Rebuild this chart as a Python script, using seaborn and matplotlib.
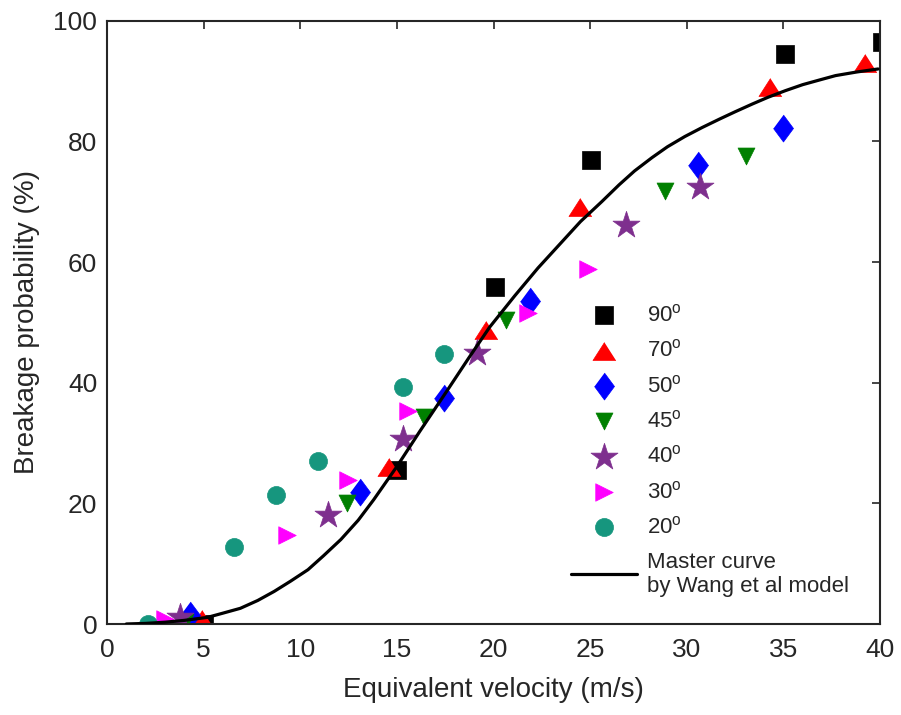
import matplotlib
matplotlib.use("Agg")
import matplotlib.pyplot as plt
import seaborn as sns
import pandas as pd

# ---------------- data ----------------
labels = ["90", "70", "50", "45", "40", "30", "20"]

v90 = [5.0, 15.0, 20.1, 25.05, 35.1, 40.1]
p90 = [0.0, 25.6, 55.8, 76.9, 94.4, 96.5]
v70 = [4.9, 14.6, 19.6, 24.5, 34.3, 39.2]
p70 = [0.8, 26.1, 48.7, 69.2, 89.0, 93.0]
v50 = [4.3, 13.1, 17.45, 21.9, 30.6, 35.0]
p50 = [1.5, 21.9, 37.5, 53.5, 76.0, 82.2]
v45 = [4.05, 12.4, 16.4, 20.65, 28.9, 33.05]
p45 = [0.4, 20.0, 34.3, 50.4, 71.7, 77.5]
v40 = [3.8, 11.45, 15.3, 19.15, 26.85, 30.7]
p40 = [1.2, 18.0, 30.6, 45.0, 66.2, 72.4]
v30 = [3.0, 9.3, 12.45, 15.55, 21.8, 24.9]
p30 = [0.8, 14.8, 23.8, 35.3, 51.6, 58.8]
v20 = [2.1, 6.55, 8.72, 10.92, 15.3, 17.45]
p20 = [0.0, 12.8, 21.4, 27.1, 39.3, 44.7]

curve_v = [1.0, 2.0, 3.0, 4.0, 5.2, 6.0, 6.9, 7.8, 8.65, 9.5, 10.4, 11.2, 12.1,
           13.0, 13.8, 15.0, 16.2, 17.5, 18.7, 19.8, 21.1, 22.3, 23.5, 24.5,
           25.6, 26.5, 27.3, 28.2, 29.0, 29.9, 30.8, 31.7, 32.5, 33.4, 34.2,
           35.1, 36.0, 36.9, 37.7, 38.8, 39.9]
curve_p = [0.0, 0.1, 0.3, 0.6, 1.1, 1.8, 2.6, 3.9, 5.4, 7.1, 9.0, 11.3, 14.0,
           17.2, 20.6, 26.1, 32.0, 38.2, 44.0, 49.2, 54.4, 59.0, 63.2, 66.7,
           70.0, 72.8, 75.1, 77.3, 79.1, 80.8, 82.3, 83.7, 84.9, 86.2, 87.3,
           88.4, 89.4, 90.2, 90.9, 91.5, 92.0]

xticks = [0, 5, 10, 15, 20, 25, 30, 35, 40]
yticks = [0, 20, 40, 60, 80, 100]

# ---------------- style ----------------
sns.set_style("white")
text_col = "#262626"
plt.rcParams["font.family"] = ["Liberation Sans", "DejaVu Sans"]
plt.rcParams["mathtext.fontset"] = "custom"
plt.rcParams["mathtext.rm"] = "Liberation Sans"
plt.rcParams["mathtext.it"] = "Liberation Sans:italic"
plt.rcParams["mathtext.bf"] = "Liberation Sans:bold"

fig = plt.figure(figsize=(9.01, 7.15), dpi=100)
ax = fig.add_axes([107 / 901, (715 - 624) / 715, (880 - 107) / 901, (624 - 20.7) / 715])

tri_up = [(0, 0.78), (-1, -0.78), (1, -0.78)]
diamond = [(0, 1), (0.74, 0), (0, -1), (-0.74, 0)]

series = [
    (v90, p90, "s", "#000000", 162),
    (v70, p70, tri_up, "#FF0000", 275),
    (v50, p50, diamond, "#0000FF", 378),
    (v45, p45, "v", "#008000", 149),
    (v40, p40, "*", "#7E2F8E", 417),
    (v30, p30, ">", "#FF00FF", 159),
    (v20, p20, "o", "#16967E", 169),
]

for lab, (vx, py, mk, col, s) in zip(labels, series):
    sns.scatterplot(x=vx, y=py, marker=mk, color=col, s=s, edgecolor=col,
                    linewidth=0.5, ax=ax, label=r"%s$^{\mathrm{o}}$" % lab,
                    zorder=2)

sns.lineplot(x=curve_v, y=curve_p, sort=False, color="black", linewidth=2.3,
             ax=ax, label="Master curve\nby Wang et al model", zorder=3)

ax.set_xlim(0, 40)
ax.set_ylim(0, 100)
ax.set_xticks(xticks)
ax.set_yticks(yticks)
ax.tick_params(direction="in", length=6, width=1.2, colors=text_col,
               labelsize=19, top=True, right=True, labeltop=False,
               labelright=False)
ax.tick_params(axis="x", pad=10)
ax.tick_params(axis="y", pad=7)
for sp in ax.spines.values():
    sp.set_visible(True)
    sp.set_color(text_col)
    sp.set_linewidth(1.5)

ax.set_xlabel("Equivalent velocity (m/s)", fontsize=20, color=text_col, labelpad=11)
ax.set_ylabel("Breakage probability (%)", fontsize=20, color=text_col, labelpad=10)

leg = ax.legend(loc="upper left", bbox_to_anchor=(0.60, 0.530), frameon=False,
                fontsize=16, borderpad=0, borderaxespad=0, labelspacing=0.6,
                handlelength=3.0, handletextpad=0.45, scatterpoints=1)
for t in leg.get_texts():
    t.set_color(text_col)

fig.savefig("out.png", dpi=100)
